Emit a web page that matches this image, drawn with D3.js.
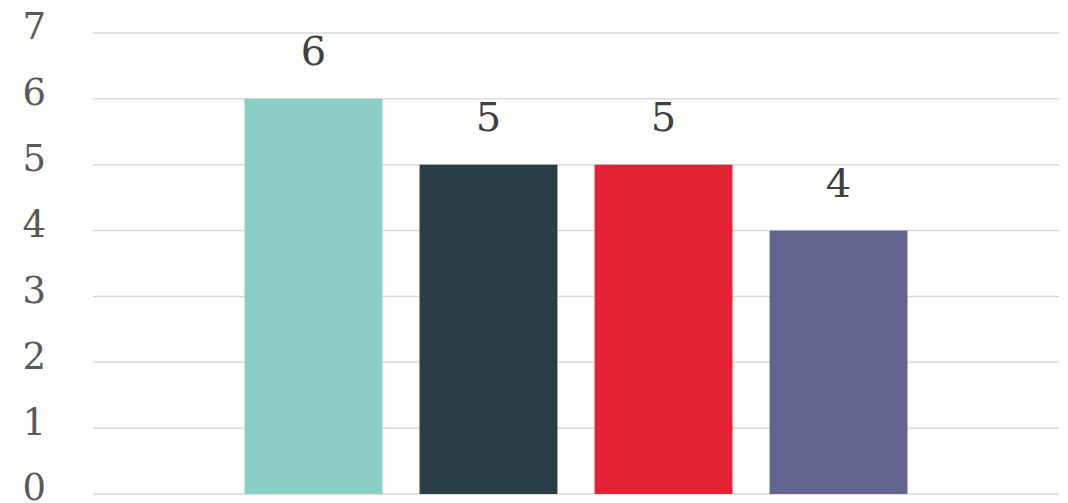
<!DOCTYPE html>
<html>
<head>
<meta charset="utf-8">
<script src="https://cdn.jsdelivr.net/npm/d3@7"></script>
<style>
  body { margin: 0; background: #fff; }
  svg text { font-family: "DejaVu Serif", serif; }
</style>
</head>
<body>
<div class="chart"></div>
<script>
// data
var series = ["A", "B", "C", "D"];
var values = [6, 5, 5, 4];
var colors = ["#8ACFC6", "#2A3E48", "#E32236", "#63648F"];
var yTicks = [0, 1, 2, 3, 4, 5, 6, 7];

var svgWidth = 1068;
var svgHeight = 503;
var margin = { top: 33, right: 9, bottom: 9, left: 93 };
var width = svgWidth - margin.left - margin.right;
var height = svgHeight - margin.top - margin.bottom;

var svg = d3.select(".chart")
    .append("svg")
    .attr("width", svgWidth)
    .attr("height", svgHeight);

var chartGroup = svg.append("g")
    .attr("transform", `translate(${margin.left}, ${margin.top})`);

var yScale = d3.scaleLinear()
    .domain([0, 7])
    .range([height, 0]);

// one category, bars clustered in the middle
var groupScale = d3.scaleBand()
    .domain(["g"])
    .range([0, width])
    .paddingInner(0)
    .paddingOuter(0.2285);

var xScale = d3.scaleBand()
    .domain(series)
    .range([groupScale("g"), groupScale("g") + groupScale.bandwidth()])
    .paddingInner(0.212)
    .paddingOuter(0);

// gridlines
chartGroup.selectAll(".grid")
    .data(yTicks)
    .enter()
    .append("line")
    .attr("x1", 0)
    .attr("x2", width)
    .attr("y1", d => yScale(d))
    .attr("y2", d => yScale(d))
    .attr("stroke", "#D9D9D9")
    .attr("stroke-width", 1.5);

// axis labels (sit a little above their gridline, like the original)
var leftAxis = d3.axisLeft(yScale).tickValues(yTicks).tickFormat(d3.format("d")).tickSize(0).tickPadding(47);
var axisG = chartGroup.append("g").call(leftAxis);
axisG.select(".domain").remove();
axisG.selectAll("text")
    .attr("fill", "#595959")
    .style("font-size", "37px")
    .attr("dy", "0.16em");

// bars
chartGroup.selectAll("rect")
    .data(values)
    .enter()
    .append("rect")
    .attr("x", (d, i) => xScale(series[i]))
    .attr("y", d => yScale(d))
    .attr("width", xScale.bandwidth())
    .attr("height", d => height - yScale(d))
    .attr("fill", (d, i) => colors[i]);

// value labels
chartGroup.selectAll(".val")
    .data(values)
    .enter()
    .append("text")
    .attr("class", "val")
    .attr("x", (d, i) => xScale(series[i]) + xScale.bandwidth() / 2)
    .attr("y", d => yScale(d) - 34)
    .attr("text-anchor", "middle")
    .attr("fill", "#404040")
    .style("font-size", "40px")
    .text(d => d);
</script>
</body>
</html>
